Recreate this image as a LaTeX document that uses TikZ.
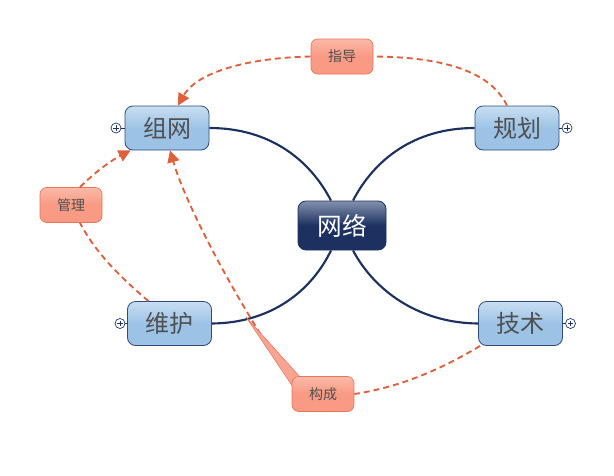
\documentclass[tikz,border=0pt]{standalone}
\usepackage{fontspec}
\newfontfamily\cjk{Noto Sans CJK SC}
\usetikzlibrary{arrows.meta,calc}
\definecolor{navy}{HTML}{1C3160}
\definecolor{navytop}{HTML}{8391AE}
\definecolor{bluetop}{HTML}{C8DEF1}
\definecolor{bluemid}{HTML}{9CC3E6}
\definecolor{blueborder}{HTML}{2E4B7C}
\definecolor{saltop}{HTML}{FBB9A8}
\definecolor{salmid}{HTML}{F89A84}
\definecolor{salborder}{HTML}{EA7458}
\definecolor{rel}{HTML}{E0603D}
\definecolor{txt}{HTML}{505050}
\tikzset{
  centerbox/.style={rectangle, rounded corners=6pt, draw=navy, line width=0.6pt,
    top color=navytop, bottom color=navy, middle color=navy,
    minimum width=66pt, minimum height=36.75pt, text=white, font=\cjk\fontsize{18.5}{20}\selectfont},
  topicbox/.style={rectangle, rounded corners=6pt, draw=blueborder, line width=0.6pt,
    top color=bluetop, bottom color=bluemid, middle color=bluemid,
    minimum width=63pt, minimum height=33pt, text=txt, font=\cjk\fontsize{18}{20}\selectfont},
  relbox/.style={rectangle, rounded corners=5pt, draw=salborder, line width=0.5pt,
    top color=saltop, bottom color=salmid, middle color=salmid,
    minimum width=46.5pt, minimum height=26.25pt, text=txt, font=\cjk\fontsize{10.5}{12}\selectfont},
  branch/.style={draw=navy, line width=1.6pt},
  relline/.style={draw=rel, line width=1.4pt, dash pattern=on 4.5pt off 3pt},
  relarrow/.style={relline, -{Triangle[length=9pt,width=9pt]}},
  plusc/.style={circle, draw=navy, fill=white, line width=0.5pt, minimum size=7.5pt, inner sep=0pt},
}
\begin{document}
\begin{tikzpicture}[x=0.75pt,y=-0.75pt]
\useasboundingbox (0,0) rectangle (614,475);

% nodes
\node[centerbox] (net) at (342,225.5) {网络};
\node[topicbox] (zw) at (167,128) {组网};
\node[topicbox] (gh) at (517,128) {规划};
\node[topicbox] (wh) at (169.5,323.5) {维护};
\node[topicbox] (js) at (520.5,323.5) {技术};

% branches
\draw[branch] (zw.east) .. controls (270,128) and (310,160) .. ($(net.north)+(-11,0)$);
\draw[branch] (gh.west) .. controls (414,128) and (374,160) .. ($(net.north)+(11,0)$);
\draw[branch] (wh.east) .. controls (272,323) and (312,290) .. ($(net.south)+(-11,0)$);
\draw[branch] (js.west) .. controls (418,323) and (374,290) .. ($(net.south)+(11,0)$);

% plus markers
\node[plusc] (p1) at (116,128) {};
\node[plusc] (p2) at (567,128) {};
\node[plusc] (p3) at (120,323.5) {};
\node[plusc] (p4) at (570.5,323.5) {};
\foreach \p in {p1,p2,p3,p4}{
  \draw[navy, line width=0.6pt] ($(\p.center)+(-2.6,0)$) -- ($(\p.center)+(2.6,0)$);
  \draw[navy, line width=0.6pt] ($(\p.center)+(0,-2.6)$) -- ($(\p.center)+(0,2.6)$);
}
\draw[navy, line width=0.5pt] (p1.east) -- (zw.west);
\draw[navy, line width=0.5pt] (p2.west) -- (gh.east);
\draw[navy, line width=0.5pt] (p3.east) -- (wh.west);
\draw[navy, line width=0.5pt] (p4.west) -- (js.east);

% relation boxes
\node[relbox] (zd) at (342,56.5) {指导};
\node[relbox] (gl) at (71,205) {管理};
\coordinate (gctip) at (246,317);
\coordinate (gcstart) at (282,368);
\draw[relarrow] (gcstart) .. controls (232,292) and (186,205) .. ($(zw.south)+(3,0)$);
\fill[salmid!90!white, draw=salborder, line width=0.4pt] (gctip) -- (301,378) -- (293,387) -- cycle;
\node[relbox] (gc) at (323,394) {构成};

% relation lines
\draw[relline] ($(gh.north)+(-10,0)$) .. controls (490,70) and (440,57) .. (zd.east);
\draw[relarrow] (zd.west) .. controls (240,58) and (195,75) .. ($(zw.north)+(11,0)$);
\draw[relline] ($(wh.north)+(-21,0)$) .. controls (120,277) and (95,252) .. ($(gl.south)+(9,0)$);
\draw[relarrow] ($(gl.north)+(9,0)$) .. controls (95,172) and (112,160) .. ($(zw.south west)+(6,0)$);
\draw[relline] ($(js.south west)+(2,0)$) .. controls (440,370) and (400,387) .. (gc.east);
\end{tikzpicture}
\end{document}
